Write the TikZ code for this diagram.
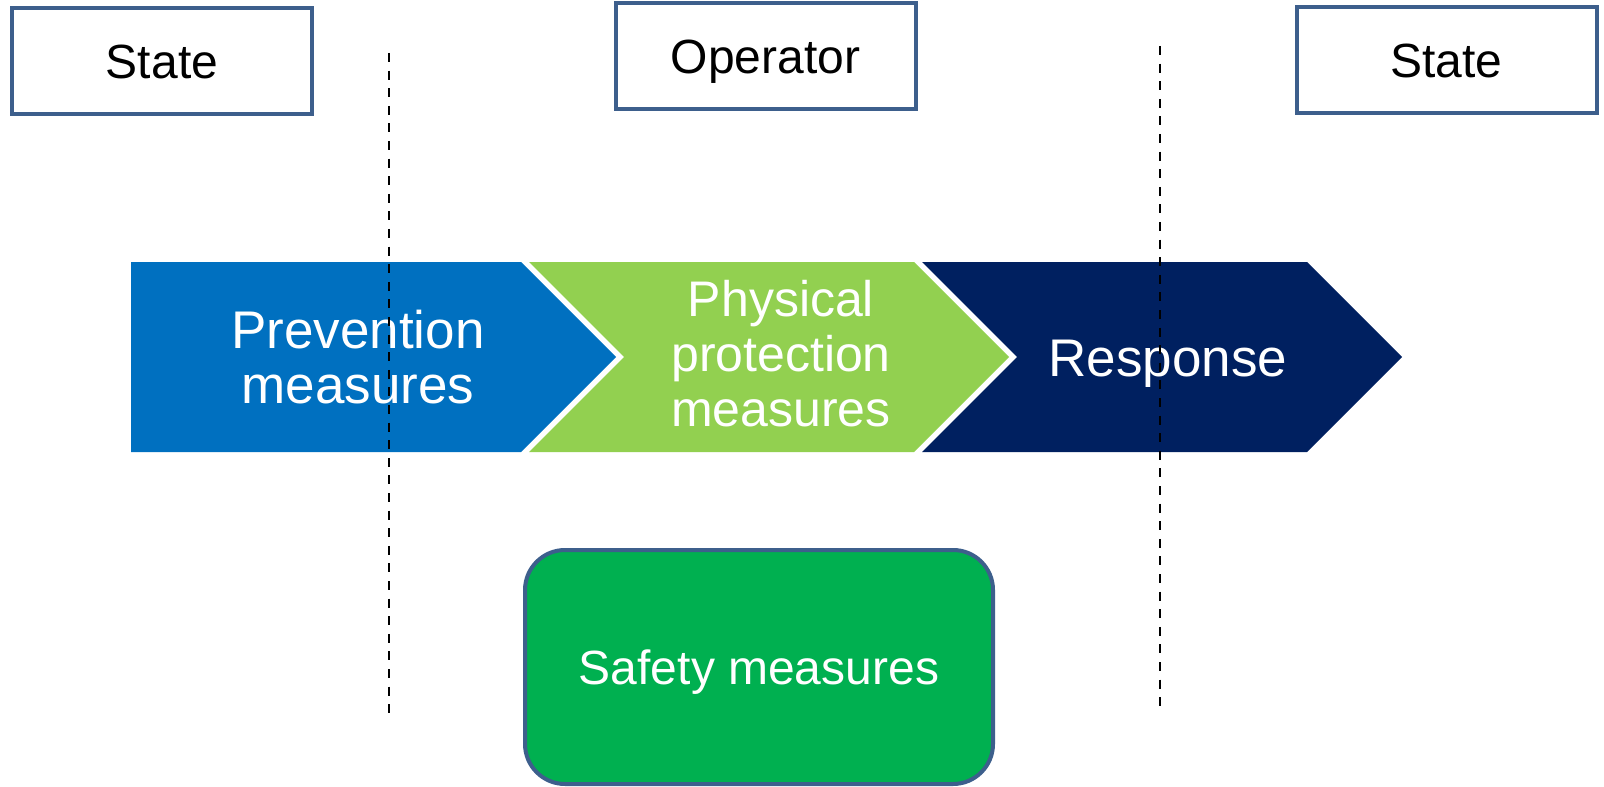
\documentclass[tikz,border=0pt]{standalone}
\usepackage{fontspec}
\setmainfont{Liberation Sans}
\usetikzlibrary{positioning}
\definecolor{frameblue}{HTML}{3D5F8C}
\definecolor{prevblue}{HTML}{0070C0}
\definecolor{physgreen}{HTML}{92D050}
\definecolor{respnavy}{HTML}{002060}
\definecolor{safegreen}{HTML}{00B050}

\begin{document}
\begin{tikzpicture}[x=0.5pt, y=-0.5pt]
      \tikzset{actor/.style={draw=frameblue, line width=2pt, fill=white, minimum width=150pt, minimum height=53pt, inner sep=0pt, text height=17.2pt, text depth=0pt, font=\fontsize{24}{28}\selectfont},
               stage/.style={text=white, align=center, inner sep=0pt, font=\fontsize{26.5}{27.5}\selectfont},
               safety/.style={draw=frameblue, line width=2pt, fill=safegreen, rounded corners=20pt, minimum width=234pt, minimum height=117pt, text height=17.2pt, text depth=0pt, text=white, font=\fontsize{24}{27.5}\selectfont},
               divider/.style={black, line width=0.75pt, dash pattern=on 4.5pt off 4.3pt}}
      \useasboundingbox (0,0) rectangle (1604,786);
      % who is responsible
      \node[actor] (S1) at (162,61) {State};
      \node[actor] (O) at (765.5,56) {Operator};
      \node[actor] (S2) at (1446.5,60.5) {State};
      % the three stages
      \fill[prevblue] (131,262) -- (521,262) -- (616,357) -- (521,452) -- (131,452) -- cycle;
      \fill[physgreen] (529,262) -- (914,262) -- (1009,357) -- (914,452) -- (529,452) -- (624,357) -- cycle;
      \fill[respnavy] (922,262) -- (1307,262) -- (1402,357) -- (1307,452) -- (922,452) -- (1017,357) -- cycle;
      \node[stage] (P) at (358,357) {Prevention\\measures};
      \node[stage, font=\fontsize{25}{27.5}\selectfont] (M) at (781,354) {Physical\\protection\\measures};
      \node[stage, text height=19pt, text depth=0pt] (R) at (1168,357) {Response};
      \node[safety] (F) at (759,667) {Safety measures};
      % borders between the actors
      \draw[divider] (389,53) -- (389,717);
      \draw[divider] (1160,46) -- (1160,712);
    \end{tikzpicture}
\end{document}
